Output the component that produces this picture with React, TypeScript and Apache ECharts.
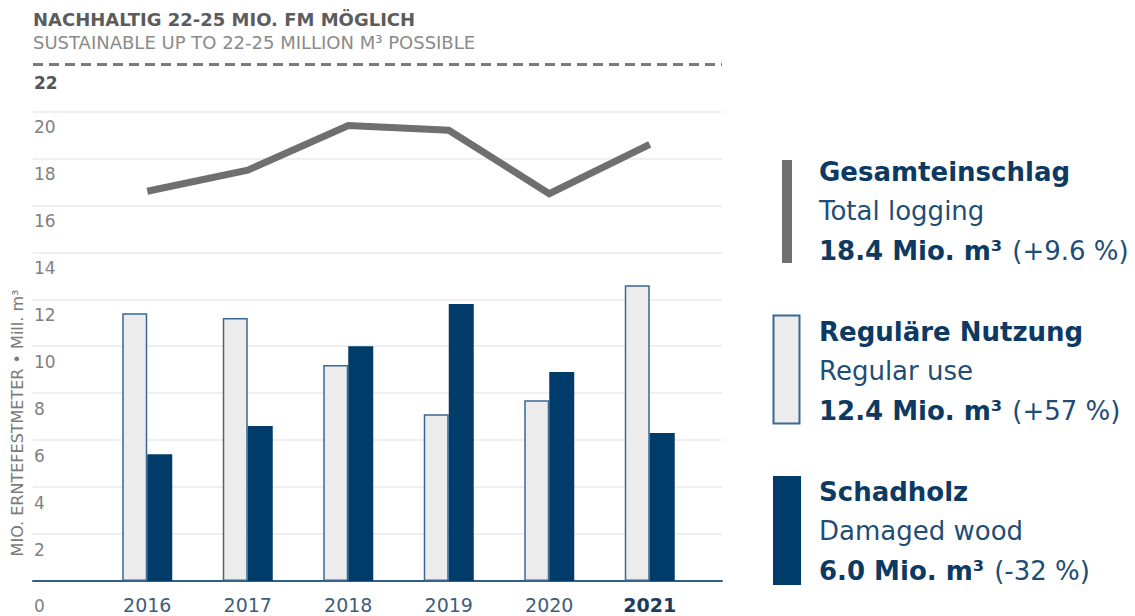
import React, { useEffect, useRef } from "react";
import * as echarts from "echarts";

const years = ["2016", "2017", "2018", "2019", "2020", "2021"];
const regularUse = [11.4, 11.2, 9.2, 7.1, 7.7, 12.6];
const damagedWood = [5.4, 6.6, 10.0, 11.8, 8.9, 6.3];
const totalLogging = [16.6, 17.5, 19.4, 19.2, 16.5, 18.6];
const yMin = 0;
const yMax = 22;
const yInterval = 2;
const sustainableLevel = 22;

const titleDe = "NACHHALTIG 22-25 MIO. FM MÖGLICH";
const titleEn = "SUSTAINABLE UP TO 22-25 MILLION M³ POSSIBLE";
const axisName = "MIO. ERNTEFESTMETER • Mill. m³";

const legendDe = ["Gesamteinschlag", "Reguläre Nutzung", "Schadholz"];
const legendEn = ["Total logging", "Regular use", "Damaged wood"];
const legendValue = ["18.4 Mio. m³", "12.4 Mio. m³", "6.0 Mio. m³"];
const legendChange = ["(+9.6 %)", "(+57 %)", "(-32 %)"];

const FONT = "'DejaVu Sans', sans-serif";
const NAVY = "#003c69";
const NAVY_TEXT = "#0c3a62";
const NAVY_LIGHT = "#1f4d76";
const LIGHT_FILL = "#ececec";
const LIGHT_BORDER = "#3a6890";
const GRAY_LINE = "#6f6f6f";

export default function App() {
  const ref = useRef<HTMLDivElement>(null);
  useEffect(() => {
    if (!ref.current) return;
    const chart = echarts.init(ref.current, undefined, { renderer: "svg" });
    const nLines = (yMax - yMin) / yInterval + 1;
    const splitColors = Array.from({ length: nLines }, (_, i) =>
      i === nLines - 1 ? "rgba(0,0,0,0)" : "#efefef"
    );

    const legendBlocks: any[] = [];
    const blockTops = [172, 332, 492];
    const markers = [
      { type: "rect", shape: { x: 782, y: 160, width: 10, height: 103 }, style: { fill: "#707070" } },
      { type: "rect", shape: { x: 773.5, y: 315.5, width: 26, height: 108 }, style: { fill: LIGHT_FILL, stroke: LIGHT_BORDER, lineWidth: 2 } },
      { type: "rect", shape: { x: 773, y: 476, width: 28, height: 109 }, style: { fill: NAVY } },
    ];
    for (let i = 0; i < 3; i++) {
      const y0 = blockTops[i];
      legendBlocks.push(markers[i]);
      legendBlocks.push({
        type: "text",
        x: 819,
        y: y0,
        style: { text: legendDe[i], font: `700 26px ${FONT}`, fill: NAVY_TEXT, textVerticalAlign: "middle" },
      });
      legendBlocks.push({
        type: "text",
        x: 819,
        y: y0 + 39,
        style: { text: legendEn[i], font: `400 26px ${FONT}`, fill: NAVY_LIGHT, textVerticalAlign: "middle" },
      });
      legendBlocks.push({
        type: "text",
        x: 819,
        y: y0 + 79,
        style: {
          text: `{b|${legendValue[i]}}{r|${legendChange[i]}}`,
          textVerticalAlign: "middle",
          rich: {
            b: { font: `700 26px ${FONT}`, fill: NAVY_TEXT },
            r: { font: `400 26px ${FONT}`, fill: NAVY_LIGHT, padding: [0, 0, 0, 10] },
          },
        },
      });
    }

    chart.setOption({
      animation: false,
      textStyle: { fontFamily: FONT },
      title: {
        left: 33,
        top: 10.5,
        padding: 0,
        itemGap: 5,
        text: titleDe,
        subtext: titleEn,
        textStyle: { fontSize: 18, lineHeight: 18, fontWeight: 700, color: "#5c5c5c", fontFamily: FONT },
        subtextStyle: { fontSize: 18, lineHeight: 18, fontWeight: 400, color: "#8a8a8a", fontFamily: FONT },
      },
      grid: [
        { left: 33, top: 64.5, width: 689, bottom: 35 },
        { left: 97, top: 64.5, width: 603, bottom: 35 },
      ],
      xAxis: [
        {
          type: "value",
          gridIndex: 0,
          min: 0,
          max: 1,
          axisLine: { show: true, onZero: false, lineStyle: { color: "#2f5f86", width: 2 } },
          axisTick: { show: false },
          axisLabel: { show: false },
          splitLine: { show: false },
        },
        {
          type: "category",
          gridIndex: 1,
          data: years,
          axisLine: { show: false },
          axisTick: { show: false },
          axisLabel: {
            margin: 14,
            formatter: (v: string) => (v === years[years.length - 1] ? `{b|${v}}` : `{n|${v}}`),
            rich: {
              n: { fontSize: 19, color: "#3e5d7c", fontFamily: FONT },
              b: { fontSize: 19, color: "#1c3c5e", fontWeight: 700, fontFamily: FONT },
            },
          },
        },
      ],
      yAxis: [
        {
          type: "value",
          gridIndex: 0,
          min: yMin,
          max: yMax,
          interval: yInterval,
          axisLine: { show: false },
          axisTick: { show: false },
          splitLine: { show: true, lineStyle: { color: splitColors, width: 2 } },
          axisLabel: {
            inside: true,
            margin: 1,
            verticalAlign: "top",
            formatter: (v: number) =>
              v === yMax ? `{t|${v}}` : v === yMin ? `{z|${v}}` : `{n|${v}}`,
            rich: {
              n: { fontSize: 17, color: "#808080", padding: [7, 0, 0, 0], fontFamily: FONT },
              z: { fontSize: 17, color: "#808080", padding: [16, 0, 0, 0], fontFamily: FONT },
              t: { fontSize: 17, color: "#555555", fontWeight: 700, padding: [10, 0, 0, 0], fontFamily: FONT },
            },
          },
        },
        {
          type: "value",
          gridIndex: 1,
          min: yMin,
          max: yMax,
          interval: yInterval,
          show: false,
          splitLine: { show: false },
        },
      ],
      series: [
        {
          type: "line",
          xAxisIndex: 0,
          yAxisIndex: 0,
          data: [
            [0, sustainableLevel],
            [1, sustainableLevel],
          ],
          symbol: "none",
          lineStyle: { color: "#7a7a7a", width: 3, type: [10, 6] },
          silent: true,
        },
        {
          type: "bar",
          name: legendDe[1],
          xAxisIndex: 1,
          yAxisIndex: 1,
          data: regularUse,
          barWidth: 25,
          barGap: "0%",
          itemStyle: { color: LIGHT_FILL, borderColor: LIGHT_BORDER, borderWidth: 1.5 },
        },
        {
          type: "bar",
          name: legendDe[2],
          xAxisIndex: 1,
          yAxisIndex: 1,
          data: damagedWood,
          barWidth: 25,
          barGap: "0%",
          itemStyle: { color: NAVY },
        },
        {
          type: "line",
          name: legendDe[0],
          xAxisIndex: 1,
          yAxisIndex: 1,
          data: totalLogging,
          symbol: "none",
          lineStyle: { color: GRAY_LINE, width: 7, cap: "butt", join: "miter" },
          z: 5,
        },
      ],
      graphic: [
        {
          type: "text",
          x: 17,
          y: 423,
          rotation: Math.PI / 2,
          style: {
            text: axisName,
            font: `400 16px ${FONT}`,
            fill: "#7a7a7a",
            textAlign: "center",
            textVerticalAlign: "middle",
          },
        },
        ...legendBlocks,
      ],
    });
    return () => chart.dispose();
  }, []);
  return (
    <div
      ref={ref}
      style={{ position: "fixed", left: 0, top: 0, width: 1135, height: 616, background: "#fff" }}
    />
  );
}
